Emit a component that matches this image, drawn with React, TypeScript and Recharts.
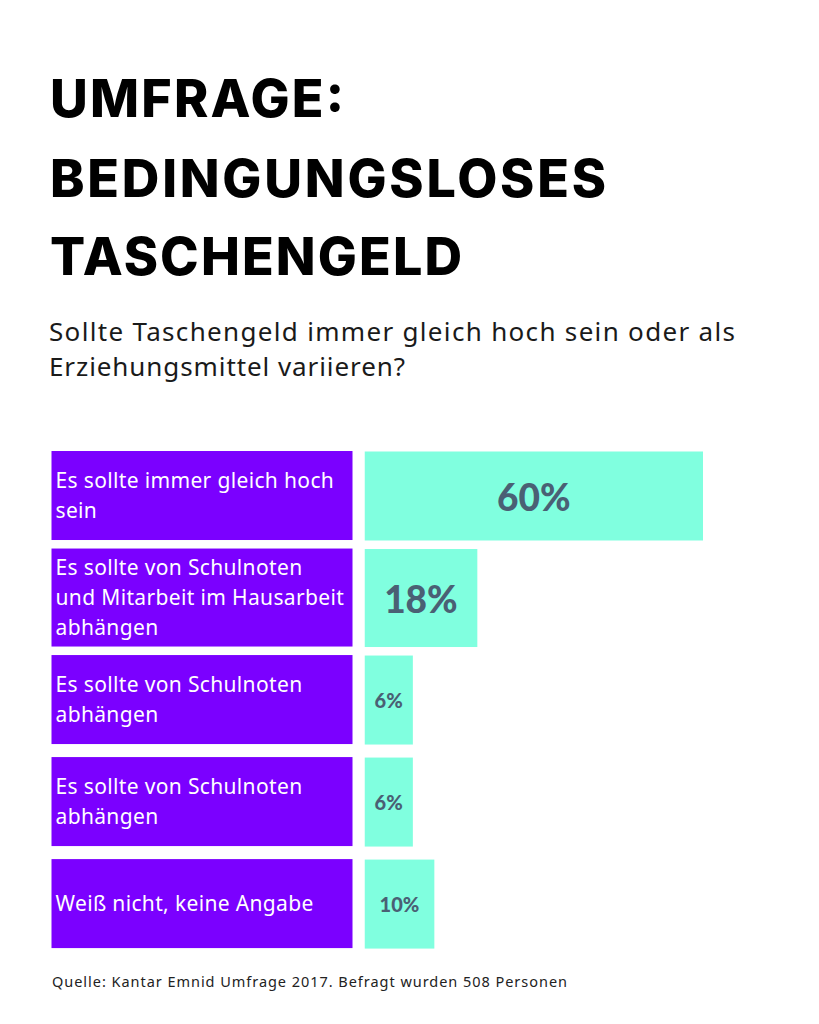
import React from "react";
import { BarChart, Bar, XAxis, YAxis, LabelList } from "recharts";

// ---- data ----
const TITLE_LINES = ["UMFRAGE:", "BEDINGUNGSLOSES", "TASCHENGELD"];
const SUBTITLE_LINES = [
  "Sollte Taschengeld immer gleich hoch sein oder als",
  "Erziehungsmittel variieren?",
];
const SOURCE = "Quelle: Kantar Emnid Umfrage 2017. Befragt wurden 508 Personen";

const categories = [
  "Es sollte immer gleich hoch\nsein",
  "Es sollte von Schulnoten\nund Mitarbeit im Hausarbeit\nabhängen",
  "Es sollte von Schulnoten\nabhängen",
  "Es sollte von Schulnoten\nabhängen ",
  "Weiß nicht, keine Angabe",
];
const values = [60, 18, 6, 6, 10];
const AXIS_MIN = -3;
const AXIS_MAX = 60;

const data = categories.map((label, i) => ({ label, value: values[i] }));

// ---- style ----
const PURPLE = "#7B00FF";
const CYAN = "#80FFDF";
const PCT_COLOR = "#4A6074";
const BOX_W = 301;
const AXIS_W = 313;
const LINE_H = 30;

const rowHeight = (label: string) => (label.split("\n").length > 2 ? 98 : 89);

const BoxTick = (props: any) => {
  const { x, y, payload } = props;
  const label: string = payload.value;
  const lines = label.trim().split("\n");
  const h = rowHeight(label);
  const left = x - AXIS_W;
  const n = lines.length;
  return (
    <g>
      <rect x={left} y={y - h / 2} width={BOX_W} height={h} fill={PURPLE} />
      {lines.map((ln, i) => (
        <text
          key={i}
          x={left + 4}
          y={y + (i - (n - 1) / 2) * LINE_H + 7.5}
          fill="#FFFFFF"
          fontFamily="'Noto Sans', sans-serif"
          fontSize={21}
          letterSpacing={0.35}
        >
          {ln}
        </text>
      ))}
    </g>
  );
};

const CyanShape = (props: any) => {
  const { x, y, width, height, payload } = props;
  const h = rowHeight(payload.label);
  const cy = y + height / 2;
  return <rect x={x} y={cy - h / 2} width={width} height={h} fill={CYAN} />;
};

const PctLabel = (props: any) => {
  const { x, y, width, height, value } = props;
  const v = Array.isArray(value) ? value[1] : value;
  const big = width > 100;
  return (
    <text
      x={x + width / 2}
      y={y + height / 2}
      textAnchor="middle"
      dominantBaseline="central"
      fill={PCT_COLOR}
      fontFamily="Lato, 'Open Sans', sans-serif"
      fontWeight={900}
      fontSize={big ? 37 : 20}
    >
      {`${v}%`}
    </text>
  );
};

const TITLE_WIDTHS = [294, 556, 412];
const TITLE_BASELINES = [117, 196.5, 275];

export default function App() {
  return (
    <div
      style={{
        position: "absolute",
        left: 0,
        top: 0,
        width: 819,
        height: 1024,
        background: "#FFFFFF",
      }}
    >
      <svg
        width={819}
        height={1024}
        style={{ position: "absolute", left: 0, top: 0 }}
      >
        {TITLE_LINES.map((t, i) => (
          <text
            key={t}
            x={50}
            y={TITLE_BASELINES[i]}
            fontFamily="Inter, 'DejaVu Sans', sans-serif"
            fontWeight={800}
            fontSize={52}
            fill="#000000"
            textLength={TITLE_WIDTHS[i]}
            lengthAdjust="spacing"
          >
            {t}
          </text>
        ))}
        {SUBTITLE_LINES.map((t, i) => (
          <text
            key={t}
            x={49}
            y={341 + i * 35}
            fontFamily="'Noto Sans', sans-serif"
            fontSize={26}
            fill="#1A1A1A"
            textLength={i === 0 ? 686 : 356}
            lengthAdjust="spacing"
          >
            {t}
          </text>
        ))}
        <text
          x={52}
          y={987}
          fontFamily="'Noto Sans', sans-serif"
          fontSize={14.5}
          fill="#222222"
          textLength={515}
          lengthAdjust="spacing"
        >
          {SOURCE}
        </text>
      </svg>
      <div style={{ position: "absolute", left: 0, top: 0 }}>
        <BarChart
          layout="vertical"
          width={819}
          height={1024}
          data={data}
          margin={{ top: 444.5, bottom: 69.4, left: 51.5, right: 116 }}
          barSize={89}
        >
          <XAxis
            type="number"
            domain={[AXIS_MIN, AXIS_MAX]}
            allowDataOverflow
            hide
          />
          <YAxis
            type="category"
            dataKey="label"
            width={AXIS_W}
            axisLine={false}
            tickLine={false}
            tickSize={0}
            tickMargin={0}
            interval={0}
            tick={<BoxTick />}
          />
          <Bar
            dataKey={(d: any) => [AXIS_MIN, d.value]}
            fill={CYAN}
            isAnimationActive={false}
            shape={<CyanShape />}
          >
            <LabelList dataKey="value" content={<PctLabel />} />
          </Bar>
        </BarChart>
      </div>
    </div>
  );
}
